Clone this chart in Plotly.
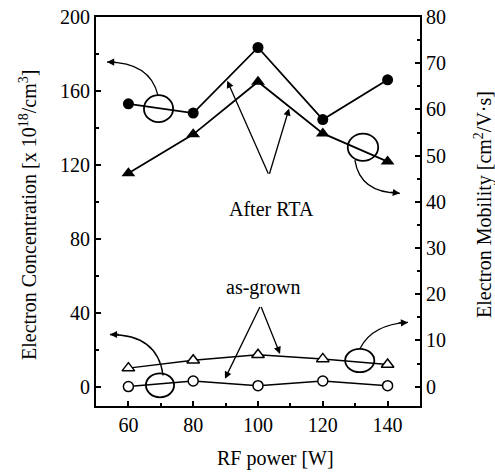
import plotly.graph_objects as go

# ---- data ----
rf_power = [60, 80, 100, 120, 140]
conc_after_rta = [153, 148, 183.5, 144.5, 166]          # left axis, x10^18 /cm^3
mob_after_rta = [46.2, 54.6, 66.0, 54.8, 48.7]          # right axis, cm^2/Vs
conc_as_grown = [0, 3, 0.5, 3, 0.5]                      # left axis
mob_as_grown = [4.0, 5.7, 6.9, 6.0, 4.8]                 # right axis

x_ticks = [60, 80, 100, 120, 140]
left_ticks = [0, 40, 80, 120, 160, 200]
right_ticks = [0, 10, 20, 30, 40, 50, 60, 70, 80]

FONT = "Liberation Serif"
fig = go.Figure()

line = dict(color="black", width=1.8)
fig.add_trace(go.Scatter(x=rf_power, y=conc_after_rta, mode="lines+markers",
                         line=line, marker=dict(symbol="circle", size=11, color="black"),
                         yaxis="y", showlegend=False))
fig.add_trace(go.Scatter(x=rf_power, y=mob_after_rta, mode="lines+markers",
                         line=line, marker=dict(symbol="triangle-up", size=12, color="black"),
                         yaxis="y2", showlegend=False))
fig.add_trace(go.Scatter(x=rf_power, y=conc_as_grown, mode="lines+markers",
                         line=dict(color="black", width=1.5),
                         marker=dict(symbol="circle", size=10, color="white",
                                     line=dict(color="black", width=1.5)),
                         yaxis="y", showlegend=False))
fig.add_trace(go.Scatter(x=rf_power, y=mob_as_grown, mode="lines+markers",
                         line=dict(color="black", width=1.5),
                         marker=dict(symbol="triangle-up", size=11, color="white",
                                     line=dict(color="black", width=1.5)),
                         yaxis="y2", showlegend=False))

shapes = []
# ellipses
for x0, x1, y0, y1 in [(64.8, 73.8, 143.1, 157.7),
                       (127.7, 137.1, 122.1, 136.9),
                       (65.4, 74.1, -5.8, 7.2),
                       (126.9, 135.9, 7.8, 20.4)]:
    shapes.append(dict(type="circle", xref="x", yref="y", x0=x0, x1=x1, y0=y0, y1=y1,
                       line=dict(color="black", width=1.8)))
# curved arrows
curves = [((69.1, 157.7), (66.7, 175.6), (53.4, 175.6), (56.5, 175.6)),
          ((129.9, 122.5), (131.5, 104.6), (143.8, 104.6), (140.5, 105.3)),
          ((70.7, 6.0), (69.1, 28.2), (54.3, 28.2), (57.5, 28.2)),
          ((131.5, 20.6), (135.2, 33.6), (146.3, 34.7), (143.0, 34.4))]
annotations = []
for (sx, sy), (cx, cy), (ex, ey), (tx, ty) in curves:
    shapes.append(dict(type="path", xref="x", yref="y",
                       path=f"M {sx},{sy} Q {cx},{cy} {ex},{ey}",
                       line=dict(color="black", width=1.3)))
    annotations.append(dict(x=ex, y=ey, ax=tx, ay=ty, xref="x", yref="y",
                            axref="x", ayref="y", text="", showarrow=True,
                            arrowhead=2, arrowsize=1.1, arrowwidth=1.3, arrowcolor="black"))

# V-shaped arrows
for apex, heads in [((103.4, 114.4), [(90.5, 165.5), (109.6, 150.5)]),
                    ((100.8, 43.9), [(89.8, 4.2), (106.8, 17.7)])]:
    for hx, hy in heads:
        annotations.append(dict(x=hx, y=hy, ax=apex[0], ay=apex[1], xref="x", yref="y",
                                axref="x", ayref="y", text="", showarrow=True,
                                arrowhead=2, arrowsize=1.1, arrowwidth=1.3,
                                arrowcolor="black", standoff=0))

textfont = dict(family=FONT, size=20, color="black")
annotations.append(dict(x=104.2, y=96.3, xref="x", yref="y", text="After RTA",
                        showarrow=False, font=textfont))
annotations.append(dict(x=101.6, y=53.8, xref="x", yref="y", text="as-grown",
                        showarrow=False, font=textfont))

# axis titles (placed in paper coordinates)
annotations.append(dict(x=(275 - 96) / 324, y=(406 - 458) / 389, xref="paper", yref="paper",
                        text="RF power [W]", showarrow=False, font=textfont,
                        xanchor="center", yanchor="middle"))
annotations.append(dict(x=(28 - 96) / 324, y=(406 - 215) / 389, xref="paper", yref="paper",
                        text="Electron Concentration [x 10<sup>18</sup>/cm<sup>3</sup>]",
                        textangle=-90, showarrow=False, font=textfont,
                        xanchor="center", yanchor="middle"))
annotations.append(dict(x=(483 - 96) / 324, y=(406 - 205) / 389, xref="paper", yref="paper",
                        text="Electron Mobility [cm<sup>2</sup>/V·s]",
                        textangle=-90, showarrow=False, font=textfont,
                        xanchor="center", yanchor="middle"))

tickfont = dict(family=FONT, size=20, color="black")
fig.update_layout(
    width=495, height=472,
    margin=dict(l=96, r=75, t=17, b=66),
    plot_bgcolor="white", paper_bgcolor="white",
    shapes=shapes, annotations=annotations,
    xaxis=dict(range=[50, 150], tickvals=x_ticks, ticks="inside", ticklen=5,
               tickwidth=1.5, tickcolor="black", automargin=False,
               minor=dict(dtick=10, tick0=50, ticks="inside", ticklen=3, tickcolor="black"),
               showline=True, linecolor="black", linewidth=2, mirror=True,
               showgrid=False, zeroline=False, tickfont=tickfont),
    yaxis=dict(range=[-10.5, 200], tickvals=left_ticks, ticks="inside", ticklen=5,
               tickwidth=1.5, tickcolor="black", automargin=False,
               minor=dict(dtick=20, tick0=0, ticks="inside", ticklen=3, tickcolor="black"),
               showline=True, linecolor="black", linewidth=2,
               showgrid=False, zeroline=False, tickfont=tickfont),
    yaxis2=dict(range=[-4.2, 80], tickvals=right_ticks, ticks="inside", ticklen=5,
                tickwidth=1.5, tickcolor="black", automargin=False,
                minor=dict(dtick=5, tick0=0, ticks="inside", ticklen=3, tickcolor="black"),
                overlaying="y", side="right",
                showline=True, linecolor="black", linewidth=2,
                showgrid=False, zeroline=False, tickfont=tickfont),
)

fig.write_html("out.html")
